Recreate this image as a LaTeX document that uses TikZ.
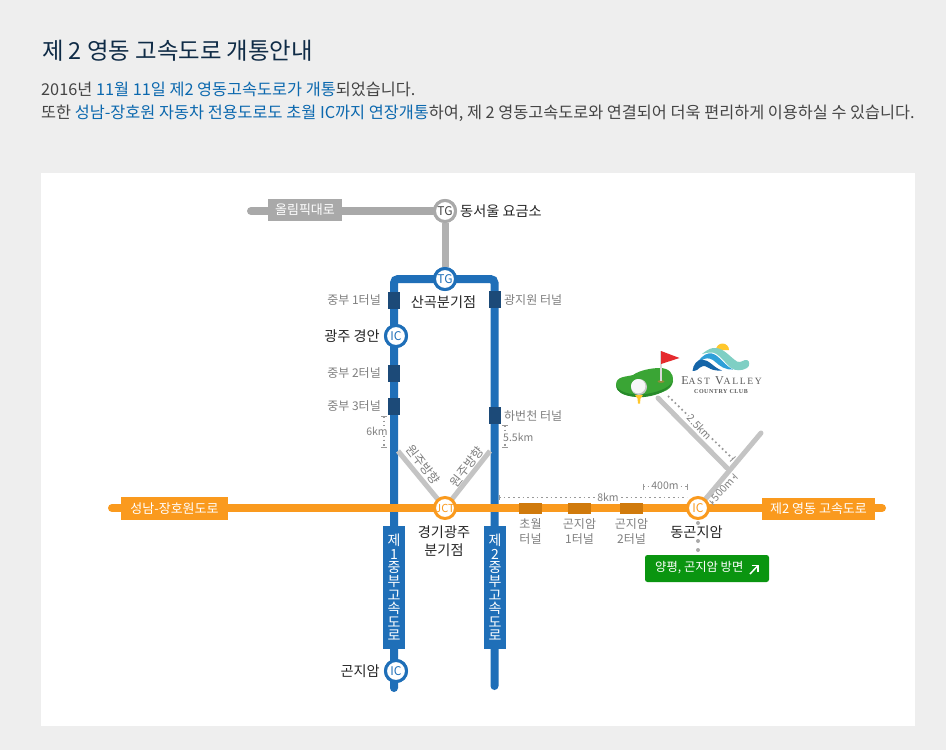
\documentclass[tikz,border=0pt]{standalone}
\usepackage{fontspec}
\setmainfont{Noto Sans CJK KR}
\newfontfamily\logofont{Liberation Serif}
\definecolor{pagegray}{HTML}{EEEEEE}
\definecolor{titleblue}{HTML}{0F2B46}
\definecolor{bodygray}{HTML}{444444}
\definecolor{linkblue}{HTML}{0B68AE}
\definecolor{roadblue}{HTML}{1F6FB8}
\definecolor{tunnelblue}{HTML}{1C4A78}
\definecolor{roadorange}{HTML}{FA9A1E}
\definecolor{tunnelorange}{HTML}{D07A0C}
\definecolor{roadgray}{HTML}{A9A9A9}
\definecolor{rampgray}{HTML}{C4C4C4}
\definecolor{labelgray}{HTML}{7F7F7F}
\definecolor{btngreen}{HTML}{0A9510}
\definecolor{golfgreen}{HTML}{3AA535}
\definecolor{golfdark}{HTML}{278A2A}
\definecolor{flagred}{HTML}{E52B2E}
\definecolor{sunyellow}{HTML}{FFC72C}
\definecolor{waveteal}{HTML}{7FCFC4}
\definecolor{wavemid}{HTML}{2FA0D8}
\definecolor{wavedark}{HTML}{1565A8}
\tikzset{
  stationbl/.style={circle,draw=roadblue,line width=3pt,fill=white,inner sep=0pt,minimum size=21pt,text=roadblue,font=\fontsize{12}{12}\selectfont},
  stationor/.style={stationbl,draw=roadorange,text=roadorange},
  stationgr/.style={stationbl,draw=roadgray,text=bodygray},
  place/.style={text=black!85,font=\fontsize{14.2}{18}\selectfont,inner sep=0pt,align=center},
  tunnelname/.style={text=labelgray,font=\fontsize{12}{15}\selectfont,inner sep=0pt,align=center},
  dist/.style={text=labelgray,font=\fontsize{10.5}{10.5}\selectfont,inner sep=0.5pt},
  roadname/.style={fill=#1,text=white,font=\fontsize{13}{13}\selectfont,inner sep=0pt},
  sideroad/.style={fill=roadblue,text=white,font=\fontsize{14}{13.6}\selectfont,inner sep=0pt,align=center,minimum width=22pt,minimum height=123pt},
  tunnelb/.style={fill=tunnelblue,inner sep=0pt,minimum width=12pt,minimum height=17pt},
  tunnelo/.style={fill=tunnelorange,inner sep=0pt,minimum width=23pt,minimum height=11pt},
  dimline/.style={draw=labelgray!80,line width=1.7pt,dash pattern=on 1.7pt off 3pt},
  dimtick/.style={draw=labelgray!80,line width=0.9pt}
}
\begin{document}
\begin{tikzpicture}[x=1pt,y=-1pt]
\useasboundingbox (0,0) rectangle (946,750);
\fill[pagegray] (0,0) rectangle (946,750);
\fill[white] (41,173) rectangle (915,726);
\node[anchor=west,inner sep=0pt,text=titleblue,font=\fontsize{23.4}{23.4}\selectfont] (title) at (42,50.5) {제 2 영동 고속도로 개통안내};
\node[anchor=west,inner sep=0pt,text=bodygray,font=\fontsize{16.3}{16.3}\selectfont] (line1) at (41,89) {2016년 \textcolor{linkblue}{11월 11일 제2 영동고속도로가 개통}되었습니다.};
\node[anchor=west,inner sep=0pt,text=bodygray,font=\fontsize{16.3}{16.3}\selectfont] (line2) at (41,113) {또한 \textcolor{linkblue}{성남-장호원 자동차 전용도로도 초월 IC까지 연장개통}하여, 제 2 영동고속도로와 연결되어 더욱 편리하게 이용하실 수 있습니다.};
\coordinate (olympicend) at (251,211);
\coordinate (topleft) at (394,279);
\coordinate (topright) at (494.5,279);
\coordinate (endleft) at (394,688);
\coordinate (endright) at (494.5,686);
\coordinate (westend) at (112,508);
\coordinate (eastend) at (882,508);
\coordinate (rampleft) at (398,451);
\coordinate (rampright) at (490,451);
\coordinate (rampjoin) at (727,468);
\coordinate (rampnorth) at (761,433);
\coordinate (golfend) at (658,398);
\node[stationgr] (tgeast) at (445,211) {TG};
\node[stationbl] (tgsan) at (445,279) {TG};
\node[stationbl] (icgyeong) at (396,336) {IC};
\node[stationbl] (icgon) at (396,671) {IC};
\draw[roadgray,line width=8pt,line cap=round] (olympicend)--(tgeast);
\draw[roadgray!90,line width=7pt] (tgeast)--(tgsan);
\draw[roadblue,line width=8pt,line cap=round,rounded corners=4pt] (endleft)--(topleft)--(topright)--(endright);
\draw[rampgray,line width=5pt] (rampleft)--(445,508);
\draw[rampgray,line width=5pt] (rampright)--(445,508);
\draw[rampgray,line width=5pt,line cap=round] (rampnorth)--(698,508);
\draw[rampgray,line width=5pt,line cap=round] (golfend)--(rampjoin);
\draw[roadorange,line width=8pt,line cap=round] (westend)--(eastend);
\node[stationgr] at (tgeast) {TG};
\node[stationbl] at (tgsan) {TG};
\node[stationbl] at (icgyeong) {IC};
\node[stationbl] at (icgon) {IC};
\node[stationor,font=\fontsize{11}{11}\selectfont] (jct) at (445,508) {JCT};
\node[stationor] (icdong) at (698,508) {IC};
\node[roadname=roadgray,minimum width=74pt,minimum height=22pt] (olympic) at (305,210) {올림픽대로};
\node[roadname=roadorange,minimum width=107pt,minimum height=23pt] (seongnam) at (174.5,508.5) {성남-장호원도로};
\node[roadname=roadorange,minimum width=113pt,minimum height=22pt] (second) at (818.5,509) {제2 영동 고속도로};
\node[sideroad] (firstroad) at (394,587.5) {제\\1\\중\\부\\고\\속\\도\\로};
\node[sideroad] (secondroad) at (495,587.5) {제\\2\\중\\부\\고\\속\\도\\로};
\node[tunnelb] (tunnel1) at (394,300.5) {};
\node[tunnelb] (tunnel2) at (394,373.5) {};
\node[tunnelb] (tunnel3) at (394,406.5) {};
\node[tunnelb] (tunnel4) at (495,299.5) {};
\node[tunnelb] (tunnel5) at (495,415.5) {};
\node[tunnelo] (tunnel6) at (530.5,508.5) {};
\node[tunnelo] (tunnel7) at (579.5,508.5) {};
\node[tunnelo] (tunnel8) at (631.5,508.5) {};
\node[tunnelname,anchor=east] at (381,300.5) {중부 1터널};
\node[tunnelname,anchor=east] at (381,373.5) {중부 2터널};
\node[tunnelname,anchor=east] at (381,406.5) {중부 3터널};
\node[tunnelname,anchor=west] at (504,300.5) {광지원 터널};
\node[tunnelname,anchor=west] at (504,416.5) {하번천 터널};
\node[tunnelname] at (530.5,532) {초월\\터널};
\node[tunnelname] at (579.5,532) {곤지암\\1터널};
\node[tunnelname] at (631.5,532) {곤지암\\2터널};
\node[place,anchor=west] at (460,211) {동서울 요금소};
\node[place] at (443.5,302) {산곡분기점};
\node[place,anchor=east] at (380,336) {광주 경안};
\node[place,anchor=east] at (380,671) {곤지암};
\node[place] at (444,541) {경기광주\\분기점};
\foreach \dy in {523,532,541,550} \fill[roadgray] (698,\dy) circle (2pt);
\node[place,fill=white,inner sep=1pt] at (696.5,532) {동곤지암};
\node[dist,font=\fontsize{12.5}{12.5}\selectfont,rotate=-52] at (423,465) {원주방향};
\node[dist,font=\fontsize{12.5}{12.5}\selectfont,rotate=52] at (467,467) {원주방향};
\coordinate (sixtop) at (384,416);
\coordinate (sixbot) at (384,447);
\draw[dimline] (sixtop)--(sixbot);
\draw[dimtick] (381,416)--(387,416);
\draw[dimtick] (381,447)--(387,447);
\node[dist,fill=white] at (377,431) {6km};
\coordinate (fivetop) at (505,425);
\coordinate (fivebot) at (505,447);
\draw[dimline] (fivetop)--(fivebot);
\draw[dimtick] (502,425)--(508,425);
\draw[dimtick] (502,447)--(508,447);
\node[dist,anchor=west,fill=white] at (502.5,437) {5.5km};
\coordinate (eightw) at (499,497.5);
\coordinate (eighte) at (687,497.5);
\draw[dimline] (eightw)--(eighte);
\draw[dimtick] (499,495)--(499,500);
\node[dist,fill=white] at (608,497) {8km};
\coordinate (fourw) at (643,486.5);
\coordinate (foure) at (687,486.5);
\draw[dimline] (fourw)--(foure);
\draw[dimtick] (643,483.5)--(643,489.5);
\draw[dimtick] (687,483.5)--(687,489.5);
\node[dist,fill=white] at (665,486) {400m};
\coordinate (golfa) at (668,396);
\coordinate (golfb) at (733,459);
\draw[dimline] (golfa)--(golfb);
\draw[dimtick] (730,461.5)--(735.5,456.5);
\node[dist,fill=white,rotate=-47] at (700,427) {2.5km};
\coordinate (fivea) at (712,503);
\coordinate (fiveb) at (735,476);
\draw[dimline] (fivea)--(fiveb);
\draw[dimtick] (709.5,500.5)--(714,505);
\draw[dimtick] (732.5,473.5)--(737.5,478.5);
\node[dist,fill=white,rotate=49,inner sep=0pt] at (723,489.5) {500m};
\node[fill=btngreen,rounded corners=2.5pt,minimum width=124pt,minimum height=27pt,inner sep=0pt] (goyang) at (707,568.5) {};
\node[text=white,anchor=west,inner sep=0pt,font=\fontsize{12.3}{12.3}\selectfont] at (655,568) {양평, 곤지암 방면};
\coordinate (arrowa) at (750,574);
\coordinate (arrowb) at (757.5,566);
\draw[white,line width=1.5pt] (arrowa)--(arrowb);
\draw[white,line width=1.5pt] (751.5,565.5)--(758,565.5)--(758,572);
\fill[golfgreen] (616,385) .. controls (616,376) and (626,377) .. (633,375) .. controls (640,370) and (652,368) .. (660,368) .. controls (669,368) and (674,374) .. (673,381) .. controls (672,390) and (663,392) .. (656,394) .. controls (645,398) and (616,399) .. (616,385) -- cycle;
\fill[golfdark] (616,385) .. controls (616,393) and (628,398) .. (644,397) .. controls (654,396) and (662,393) .. (667,389) .. controls (671,386) and (672,384) .. (673,381) .. controls (669,389) and (655,393) .. (642,394.5) .. controls (630,395) and (618,392) .. (616,385) -- cycle;
\fill[brown!70!golfgreen] (661,381.5) ellipse (3.5pt and 1.3pt);
\draw[white!85!black,line width=1.2pt] (661,351)--(661,381);
\fill[flagred] (661,351) -- (679.5,358) -- (661,364) -- cycle;
\fill[sunyellow] (635,395) -- (643,395) -- (640.5,398.5) -- (640,403.5) -- (638,403.5) -- (637.5,398.5) -- cycle;
\fill[black!22] (639,387) circle (8pt);
\fill[white!97!black] (638.2,386.2) circle (7.2pt);
\node[inner sep=0pt,text=black!65,font=\logofont\fontsize{12}{12}\selectfont\addfontfeature{LetterSpace=17}] (logoname) at (721.5,381) {E{\fontsize{9.6}{9.6}\selectfont AST} V{\fontsize{9.6}{9.6}\selectfont ALLEY}};
\node[inner sep=0pt,text=black!65,font=\logofont\bfseries\fontsize{6}{6}\selectfont\addfontfeature{LetterSpace=9}] (logosub) at (721,391.5) {COUNTRY CLUB};
\fill[sunyellow] (716,350) arc (180:360:6.5) -- cycle;
\fill[waveteal] (702,354) .. controls (708,349) and (712,347.5) .. (716,348) .. controls (724,348.5) and (730,357) .. (737,361.5) .. controls (741,363.5) and (744,359) .. (747,360) .. controls (750,361) and (750,366) .. (747,368) .. controls (742,371) and (735,371) .. (731,368) .. controls (724,362) and (718,352) .. (711,352.5) .. controls (708,352.5) and (705,353) .. (702,354) -- cycle;
\fill[wavemid] (698,362) .. controls (702,355) and (708,352.5) .. (712,353.5) .. controls (719,355) and (725,366) .. (733,369.5) .. controls (725,370) and (720,366) .. (716,362.5) .. controls (712,358.5) and (708,357.5) .. (704,359) .. controls (702,359.5) and (700,361) .. (698,362) -- cycle;
\fill[wavedark] (692.5,371) .. controls (693,365) and (697,359.5) .. (702,359.5) .. controls (709,359.5) and (714,368) .. (722,370.5) .. controls (715,371) and (711,369.5) .. (708,367.5) .. controls (704,365) and (702,366) .. (700,367.5) .. controls (698,369) and (697,371) .. (692.5,371) -- cycle;
\end{tikzpicture}
\end{document}
